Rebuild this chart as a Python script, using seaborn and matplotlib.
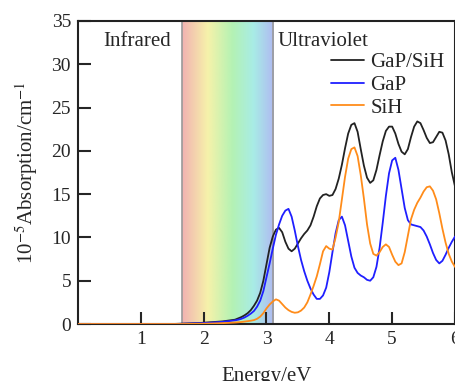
import numpy as np
import pandas as pd
import matplotlib
matplotlib.use("Agg")
import matplotlib.pyplot as plt
import seaborn as sns
from matplotlib.colors import LinearSegmentedColormap

# ---------------- data ----------------
energy = [0.0, 0.5, 1.0, 1.5, 1.7, 1.9, 2.1, 2.3, 2.4, 2.5, 2.55, 2.6, 2.65, 2.7, 2.75,
          2.80, 2.85, 2.90, 2.95, 3.00, 3.05, 3.10, 3.15, 3.20, 3.25, 3.30, 3.35, 3.40,
          3.45, 3.50, 3.55, 3.60, 3.65, 3.70, 3.75, 3.80, 3.85, 3.90, 3.95, 4.00, 4.05,
          4.10, 4.15, 4.20, 4.25, 4.30, 4.35, 4.40, 4.45, 4.50, 4.55, 4.60, 4.65, 4.70,
          4.75, 4.80, 4.85, 4.90, 4.95, 5.00, 5.05, 5.10, 5.15, 5.20, 5.25, 5.30, 5.35,
          5.40, 5.45, 5.50, 5.55, 5.60, 5.65, 5.70, 5.75, 5.80, 5.85, 5.90, 5.95, 6.00]

gap_sih = [0, 0, 0, 0, 0.05, 0.1, 0.2, 0.3, 0.4, 0.5, 0.65, 0.8, 1.0, 1.25, 1.6,
           2.1, 2.7, 3.6, 5.0, 6.9, 8.8, 10.1, 10.9, 11.1, 10.6, 9.5, 8.7, 8.4,
           8.7, 9.3, 9.9, 10.4, 10.8, 11.4, 12.4, 13.6, 14.5, 14.9, 15.0, 14.8, 14.9,
           15.6, 16.8, 18.4, 20.3, 22.0, 23.0, 23.2, 22.2, 20.2, 18.3, 16.9, 16.3, 16.6,
           17.8, 19.5, 21.1, 22.3, 22.8, 22.8, 22.0, 20.8, 19.9, 19.6, 20.2, 21.6, 22.8,
           23.4, 23.2, 22.4, 21.5, 20.9, 21.0, 21.6, 22.2, 22.1, 21.2, 19.6, 17.5, 15.9]

gap = [0, 0, 0, 0, 0.03, 0.08, 0.15, 0.25, 0.33, 0.42, 0.5, 0.6, 0.75, 0.95, 1.2,
       1.5, 2.0, 2.7, 3.8, 5.4, 7.0, 8.7, 10.3, 11.5, 12.5, 13.1, 13.3, 12.4,
       10.8, 9.0, 7.4, 6.1, 5.0, 4.1, 3.4, 2.9, 2.9, 3.3, 4.2, 6.0, 8.3,
       10.5, 12.0, 12.4, 11.4, 9.6, 7.8, 6.5, 5.9, 5.6, 5.4, 5.1, 5.0, 5.4,
       6.6, 8.8, 11.7, 14.8, 17.4, 18.9, 19.2, 17.8, 15.6, 13.4, 12.0, 11.5, 11.4,
       11.3, 11.2, 10.8, 10.1, 9.2, 8.2, 7.4, 7.0, 7.3, 8.0, 8.8, 9.5, 10.1]

sih = [0, 0, 0, 0, 0, 0.02, 0.05, 0.1, 0.13, 0.17, 0.2, 0.23, 0.28, 0.33, 0.38,
       0.45, 0.6, 0.85, 1.25, 1.8, 2.25, 2.6, 2.85, 2.7, 2.3, 1.9, 1.6, 1.4,
       1.3, 1.35, 1.55, 1.9, 2.5, 3.4, 4.4, 5.5, 6.9, 8.4, 9.0, 8.7, 8.6,
       10.0, 11.8, 14.4, 17.0, 19.1, 20.2, 20.4, 19.4, 17.2, 14.5, 11.5, 9.3, 8.1,
       7.9, 8.3, 8.9, 9.2, 8.9, 8.0, 7.2, 6.8, 7.0, 8.3, 10.2, 12.1, 13.2,
       14.0, 14.6, 15.3, 15.8, 15.9, 15.4, 14.4, 12.8, 11.0, 9.4, 8.1, 7.2, 6.6]

series_names = ["GaP/SiH", "GaP", "SiH"]
series_colors = ["#222222", "#1f1fff", "#ff8c1a"]
visible_range = [1.66, 3.11]
x_ticks = [1, 2, 3, 4, 5, 6]
y_ticks = [0, 5, 10, 15, 20, 25, 30, 35]

# ---------------- figure ----------------
sns.set_style("ticks")
plt.rcParams["font.family"] = ["Liberation Serif", "DejaVu Serif"]
plt.rcParams["mathtext.fontset"] = "stix"

fig = plt.figure(figsize=(4.55, 3.81), dpi=100)
ax = fig.add_axes([0.1714, 0.1496, 0.8286, 0.7953])

# visible-spectrum band
cmap = LinearSegmentedColormap.from_list(
    "spec",
    [(0.0, "#f2b2b2"), (0.28, "#f6f2aa"), (0.55, "#b4f2b4"),
     (0.78, "#a8ece6"), (1.0, "#b0baf2")])
grad = np.linspace(0, 1, 256).reshape(1, -1)
ax.imshow(grad, extent=[visible_range[0], visible_range[1], 0, 35],
          aspect="auto", cmap=cmap, zorder=0)
for xv in visible_range:
    ax.axvline(xv, color="#9a9a9a", lw=1.2, zorder=1)

df = pd.DataFrame({"Energy": energy, series_names[0]: gap_sih,
                   series_names[1]: gap, series_names[2]: sih})
long = df.melt(id_vars="Energy", var_name="series", value_name="abs")
sns.lineplot(data=long, x="Energy", y="abs", hue="series",
             hue_order=series_names, palette=series_colors,
             lw=1.3, ax=ax, zorder=3)

ax.set_xlim(0, 6)
ax.set_ylim(0, 35)
ax.set_xticks(x_ticks)
ax.set_yticks(y_ticks)
ax.tick_params(direction="in", length=9, width=1.5, labelsize=14,
               top=False, right=False, pad=5)
for s in ax.spines.values():
    s.set_linewidth(1.5)
    s.set_color("#222222")

ax.set_xlabel("Energy/eV", fontsize=15, labelpad=14)
ax.set_ylabel(r"10$^{-5}$Absorption/cm$^{-1}$", fontsize=15, labelpad=8)

ax.text(0.4, 32.6, "Infrared", fontsize=15, va="center", ha="left")
ax.text(3.18, 32.6, "Ultraviolet", fontsize=15, va="center", ha="left")

leg = ax.legend(loc="upper right", bbox_to_anchor=(1.0, 0.93), frameon=False,
                fontsize=15, handlelength=1.6, handletextpad=0.3,
                labelspacing=0.15, borderaxespad=0.1)

fig.savefig("out.png", dpi=100)
